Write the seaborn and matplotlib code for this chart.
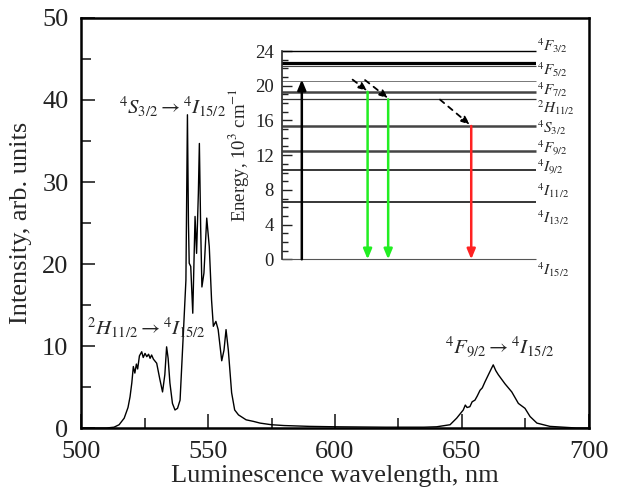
import matplotlib
matplotlib.use("Agg")
import matplotlib.pyplot as plt
import pandas as pd
import seaborn as sns

# Luminescence spectrum
wavelength = [500, 510, 513, 515, 517, 518.5, 519.3, 520, 520.6, 521.2, 521.8, 522.3, 523,
              523.9, 524.5, 525.2, 525.9, 526.6, 527.2, 527.8, 528.5, 529.8, 531, 532.1,
              533, 533.7, 534.3, 535, 536, 537, 538, 539, 540.3, 541.3, 541.9, 542.3,
              542.6, 543.2, 544, 544.9, 545.5, 546.2, 546.6, 547.1, 547.6, 548.4, 549.5,
              550.5, 551.4, 552.1, 553.1, 554, 555.4, 556.3, 557.1, 558, 559.3, 560.5,
              562, 565, 568, 570.5, 575, 580, 590, 600, 620, 635, 640, 645.3, 647.9,
              650.5, 651.3, 652, 653.1, 654, 655.1, 656, 657.1, 658, 659, 660.4, 661.5,
              662.3, 663.3, 664.3, 666.9, 669.6, 672.2, 674.8, 676.8, 679.5, 684.6,
              692.5, 695, 700]
intensity = [0, 0, 0.1, 0.4, 1.2, 2.5, 3.8, 5.5, 7.5, 6.7, 7.8, 7.2, 8.8,
             9.3, 8.6, 9.1, 8.7, 9.0, 8.5, 8.9, 8.4, 7.9, 6.0, 4.4,
             6.5, 9.9, 8.5, 5.5, 3.0, 2.2, 2.4, 3.4, 11.6, 18, 38.2, 25,
             20.1, 19.7, 14, 25.8, 21.3, 28.6, 34.7, 24.6, 17.2, 18.9, 25.6,
             22.1, 15.6, 12.4, 13, 12, 8.2, 9.5, 12, 9.5, 4.3, 2.2,
             1.6, 1.0, 0.8, 0.6, 0.4, 0.3, 0.2, 0.15, 0.1, 0.1, 0.15, 0.4, 1.2,
             2.2, 2.8, 2.5, 2.6, 3.2, 3.4, 3.9, 4.6, 4.9, 5.6, 6.5, 7.2,
             7.7, 7.0, 6.5, 5.4, 4.4, 3.0, 2.4, 1.4, 0.6, 0.2,
             0.05, 0, 0]

# Energy levels for the inset (10^3 cm^-1)
levels = [24.0, 22.66, 22.46, 22.27, 20.55, 19.3, 18.43, 15.36, 12.48, 10.29, 6.64, 0.0]
level_lw = [1.0, 1.6, 1.6, 0.8, 0.7, 1.8, 0.9, 1.8, 1.8, 1.1, 1.1, 0.8]
level_col = ['black', 'black', 'black', '#444444', '#777777', '#444444', '#333333',
             '#444444', '#444444', 'black', 'black', '#555555']
level_names = [r'$^4F_{3/2}$', r'$^4F_{5/2}$', r'$^4F_{7/2}$', r'$^2H_{11/2}$',
               r'$^4S_{3/2}$', r'$^4F_{9/2}$', r'$^4I_{9/2}$', r'$^4I_{11/2}$',
               r'$^4I_{13/2}$', r'$^4I_{15/2}$']
level_label_y = [24.6, 21.9, 19.6, 17.5, 15.2, 12.8, 10.6, 7.9, 4.8, -1.2]

sns.set_style("ticks")
plt.rcParams['font.family'] = ['Liberation Serif', 'DejaVu Serif']
plt.rcParams['mathtext.fontset'] = 'stix'

fig = plt.figure(figsize=(6.17, 4.97), dpi=100)
ax = fig.add_axes([0.1313, 0.1388, 0.8233, 0.825])

df = pd.DataFrame({'wl': wavelength, 'I': intensity})
sns.lineplot(data=df, x='wl', y='I', ax=ax, color='black', lw=1.0)

ax.set_xlim(500, 700)
ax.set_ylim(0, 50)
ax.set_xticks(range(500, 701, 50))
ax.set_xticks(range(525, 700, 50), minor=True)
ax.set_yticks(range(0, 51, 10))
ax.set_yticks(range(5, 50, 10), minor=True)
ax.tick_params(which='both', direction='in', labelsize=19, width=1.2, colors='#222222')
ax.tick_params(which='major', length=10)
ax.tick_params(which='minor', length=7)
ax.tick_params(axis='x', pad=9)
ax.tick_params(axis='y', pad=9)
for s in ax.spines.values():
    s.set_linewidth(1.8)
    s.set_color('black')
ax.set_xlabel("Luminescence wavelength, nm", fontsize=19, labelpad=2)
ax.set_ylabel("Intensity, arb. units", fontsize=19, labelpad=7)

ax.text(536.2, 39.1, r'$^4S_{3/2} \rightarrow {}^4I_{15/2}$', fontsize=15, ha='center', va='center')
ax.text(525.6, 12.2, r'$^2H_{11/2} \rightarrow {}^4I_{15/2}$', fontsize=15, ha='center', va='center')
ax.text(665, 9.9, r'$^4F_{9/2} \rightarrow {}^4I_{15/2}$', fontsize=15, ha='center', va='center')

# inset: energy level scheme
ins = fig.add_axes([282 / 617, 1 - 259.3 / 497, 254 / 617, 208.3 / 497])
ins.patch.set_visible(False)
ins.set_xlim(0, 1)
ins.set_ylim(0, 24)
for sp in ['top', 'right', 'bottom']:
    ins.spines[sp].set_visible(False)
ins.spines['left'].set_linewidth(1.2)
ins.set_xticks([])
ins.set_yticks(range(0, 25, 4))
ins.set_yticks(range(0, 25, 1), minor=True)
ins.tick_params(which='both', direction='in', labelsize=13.5, width=1.0, colors='#222222')
ins.tick_params(which='major', length=7, pad=6)
ins.tick_params(which='minor', length=4)
ins.set_ylabel(r'Energy, 10$^3$ cm$^{-1}$', fontsize=13.5, labelpad=3)

for y, w, c in zip(levels, level_lw, level_col):
    ins.hlines(y, 0, 1, color=c, lw=w, clip_on=False)
for name, y in zip(level_names, level_label_y):
    ins.text(1.005, y, name, fontsize=11, ha='left', va='center', clip_on=False)

head = dict(arrowstyle='-|>,head_length=0.6,head_width=0.25', lw=1.8, shrinkA=0, shrinkB=0)
ins.annotate('', xy=(0.078, 20.7), xytext=(0.078, 0),
             arrowprops=dict(head, color='black'))
ins.annotate('', xy=(0.337, 0), xytext=(0.337, 19.3),
             arrowprops=dict(head, color='#22ee22'))
ins.annotate('', xy=(0.418, 0), xytext=(0.418, 18.43),
             arrowprops=dict(head, color='#22ee22'))
ins.annotate('', xy=(0.745, 0), xytext=(0.745, 15.36),
             arrowprops=dict(head, color='#ff2222'))

dash = dict(arrowstyle='-|>,head_length=0.5,head_width=0.2', lw=1.3, ls=(0, (3, 3)),
            color='black', shrinkA=0, shrinkB=0)
ins.annotate('', xy=(0.336, 19.4), xytext=(0.278, 20.7), arrowprops=dash)
ins.annotate('', xy=(0.418, 18.55), xytext=(0.327, 20.65), arrowprops=dash)
ins.annotate('', xy=(0.740, 15.5), xytext=(0.622, 18.4), arrowprops=dash)

fig.savefig("out.png", dpi=100)
